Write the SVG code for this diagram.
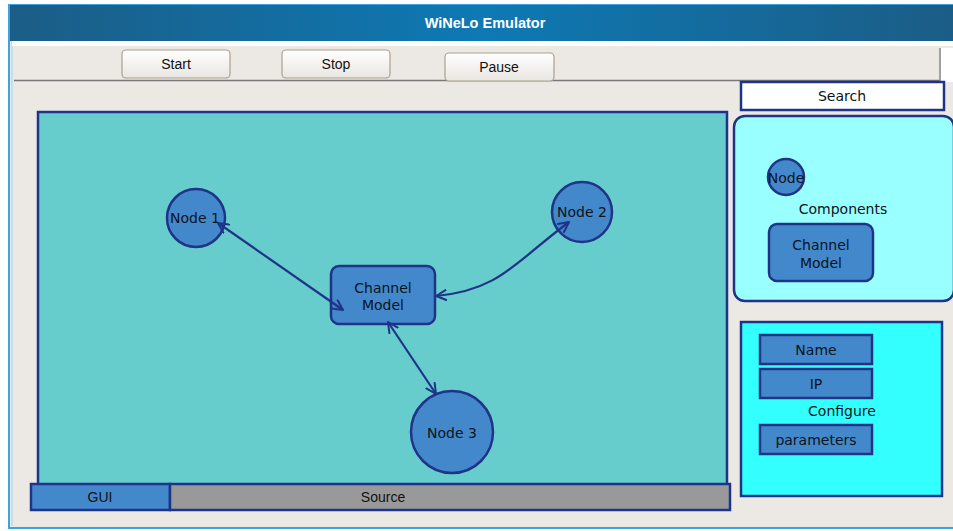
<svg xmlns="http://www.w3.org/2000/svg" width="953" height="531" viewBox="0 0 953 531">
  <defs>
    <linearGradient id="titleGrad" x1="0" y1="0" x2="1" y2="0">
      <stop offset="0" stop-color="#1b5d86"/>
      <stop offset="0.5" stop-color="#0e79b4"/>
      <stop offset="1" stop-color="#1b5d86"/>
    </linearGradient>
    <linearGradient id="btnGrad" x1="0" y1="0" x2="0" y2="1">
      <stop offset="0" stop-color="#ffffff"/>
      <stop offset="1" stop-color="#e9e6e1"/>
    </linearGradient>
    <marker id="arrow" viewBox="0 0 12 12" refX="11" refY="6" markerWidth="12" markerHeight="12" markerUnits="userSpaceOnUse" orient="auto-start-reverse">
      <path d="M1,1 L11,6 L1,11" fill="none" stroke="#1f3488" stroke-width="2" stroke-linecap="round" stroke-linejoin="round"/>
    </marker>
  </defs>
  <style>
    .ui { font-family: "Liberation Sans", Arial, sans-serif; font-size: 14px; fill: #111; text-anchor: middle; dominant-baseline: central; }
    .lbl { font-family: "DejaVu Sans", "Noto Sans", sans-serif; font-size: 14px; fill: #0a1420; text-anchor: middle; dominant-baseline: central; }
    .btn { fill: url(#btnGrad); stroke: #aa9f8e; stroke-width: 1.2; }
    .node { fill: #4488cc; stroke: #1f3488; stroke-width: 2.5; }
    .navy { stroke: #1f3488; stroke-width: 2.5; }
    .conn { fill: none; stroke: #1f3488; stroke-width: 2.2; marker-start: url(#arrow); marker-end: url(#arrow); }
  </style>

  <!-- window frame -->
  <rect x="0" y="0" width="953" height="531" fill="#ffffff"/>
  <rect x="9" y="5" width="950" height="523" fill="#ece9e4" stroke="#3aa3e0" stroke-width="2"/>
  <line x1="12" y1="40" x2="12" y2="526" stroke="#9fd2f0" stroke-width="1"/>
  <rect x="10" y="5" width="943" height="36" fill="url(#titleGrad)"/>
  <text x="485" y="23" font-family="Liberation Sans, Arial, sans-serif" font-size="14.5" font-weight="bold" fill="#ffffff" text-anchor="middle" dominant-baseline="central">WiNeLo Emulator</text>
  <rect x="12" y="41" width="941" height="5" fill="#ffffff"/>

  <!-- toolbar -->
  <g id="toolbar">
    <rect x="14" y="46" width="925" height="34" fill="#ece9e4"/>
    <line x1="14" y1="80.5" x2="940" y2="80.5" stroke="#777" stroke-width="1.5"/>
    <line x1="940" y1="48" x2="940" y2="81" stroke="#888" stroke-width="1.5"/>
    <rect x="941" y="48" width="12" height="34" fill="#ffffff"/>
    <g id="btn-start"><rect class="btn" x="122" y="50" width="108" height="28" rx="4"/><text class="ui" x="176" y="64">Start</text></g>
    <g id="btn-stop"><rect class="btn" x="282" y="50" width="108" height="28" rx="4"/><text class="ui" x="336" y="64">Stop</text></g>
    <g id="btn-pause"><rect class="btn" x="445" y="53" width="109" height="28" rx="4"/><text class="ui" x="499" y="67">Pause</text></g>
  </g>

  <!-- canvas -->
  <rect id="canvas" x="38" y="112" width="689" height="373" fill="#66cccc" class="navy"/>

  <g id="node1"><circle class="node" cx="196" cy="218" r="29"/><text class="lbl" x="195" y="218">Node 1</text></g>
  <g id="node2"><circle class="node" cx="582" cy="212" r="30"/><text class="lbl" x="582" y="212">Node 2</text></g>
  <g id="channel"><rect class="node" x="331" y="266" width="104" height="58" rx="8"/><text class="lbl" x="383" y="287.5">Channel</text><text class="lbl" x="383" y="305">Model</text></g>
  <g id="node3"><circle class="node" cx="452" cy="432" r="41"/><text class="lbl" x="452" y="433">Node 3</text></g>

  <!-- connectors -->
  <g id="connectors">
    <path class="conn" d="M218,223 L343,310"/>
    <path class="conn" d="M436,296 C500,290 515,262 569,222"/>
    <path class="conn" d="M388,322 L436,394"/>
  </g>

  <!-- status bar -->
  <g id="gui"><rect x="31" y="484" width="139" height="26" fill="#4488cc" class="navy"/><text class="ui" x="100" y="497">GUI</text></g>
  <g id="source"><rect x="170" y="484" width="560" height="26" fill="#999999" class="navy"/><text class="ui" x="383" y="497">Source</text></g>

  <!-- search -->
  <g id="search"><rect x="741" y="82" width="203" height="28" fill="#ffffff" class="navy"/><text class="lbl" x="842" y="96" font-size="13.5">Search</text></g>

  <!-- components palette -->
  <g id="components">
    <rect x="734" y="116" width="220" height="185" rx="11" fill="#99ffff" class="navy"/>
    <text class="lbl" x="843" y="209">Components</text>
  </g>
  <g id="palette-node"><circle class="node" cx="786" cy="177" r="18"/><text class="lbl" x="786" y="178">Node</text></g>
  <g id="palette-channel"><rect class="node" x="769" y="224" width="104" height="57" rx="8"/><text class="lbl" x="821" y="245">Channel</text><text class="lbl" x="821" y="263">Model</text></g>

  <!-- configure panel -->
  <g id="configure">
    <rect x="741" y="322" width="201" height="174" fill="#33ffff" class="navy"/>
    <text class="lbl" x="842" y="411">Configure</text>
  </g>
  <g id="cfg-name"><rect class="node" x="760" y="335" width="112" height="29"/><text class="lbl" x="816" y="350">Name</text></g>
  <g id="cfg-ip"><rect class="node" x="760" y="369" width="112" height="29"/><text class="lbl" x="816" y="384">IP</text></g>
  <g id="cfg-params"><rect class="node" x="760" y="425" width="112" height="29"/><text class="lbl" x="816" y="440">parameters</text></g>
</svg>
